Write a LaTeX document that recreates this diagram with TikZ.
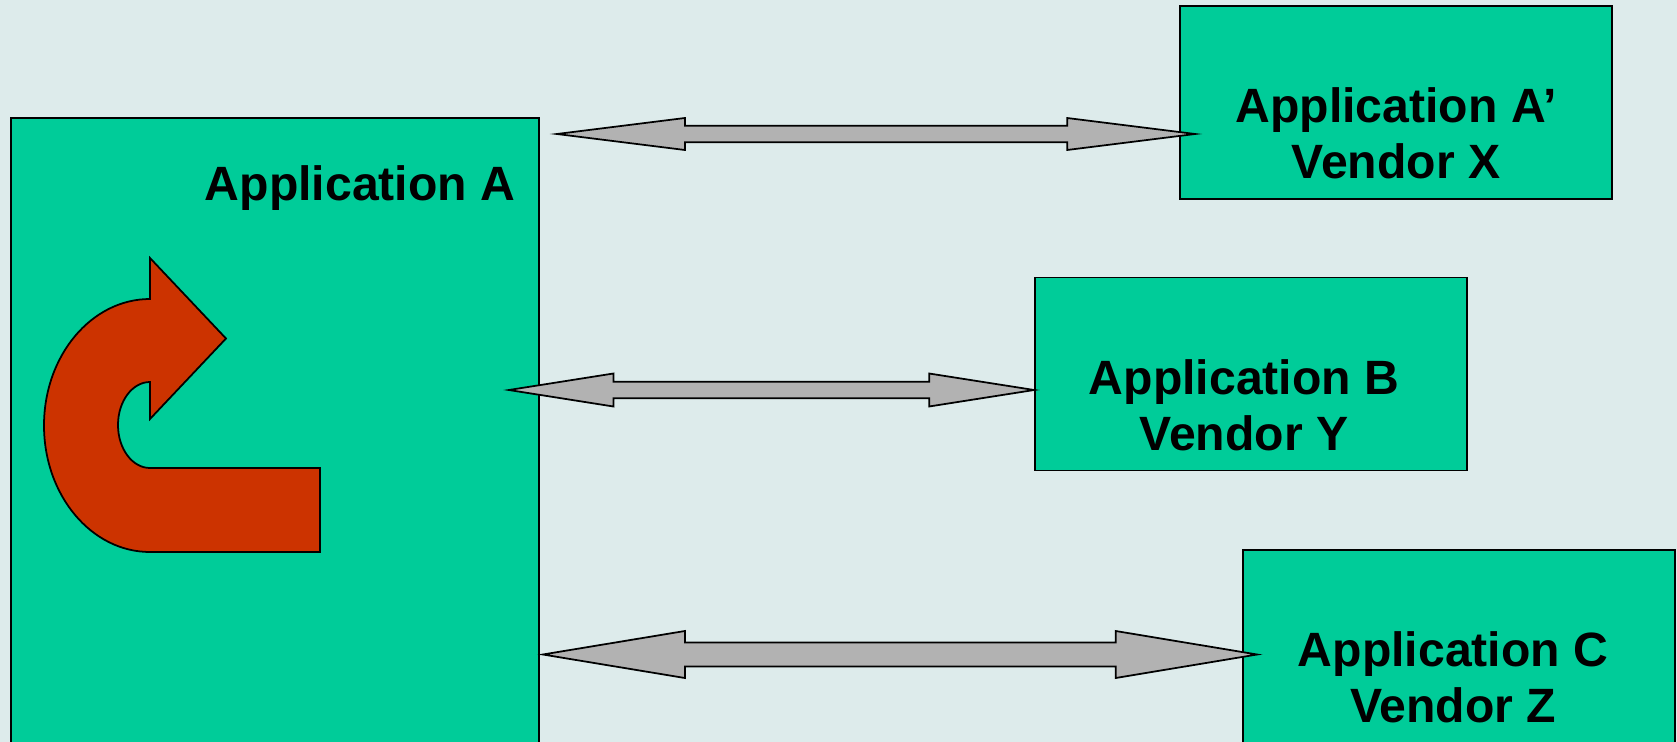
\documentclass[tikz,border=0pt]{standalone}
\usepackage{fontspec}
\setmainfont{Liberation Sans}
\usepackage{xcolor}
\usepackage{tikz}
\usetikzlibrary{positioning,calc}

\definecolor{slidebg}{RGB}{221,235,235}
\definecolor{appgreen}{RGB}{0,204,153}
\definecolor{loopred}{RGB}{204,51,0}
\definecolor{linkgray}{RGB}{178,178,178}

\begin{document}
\begin{tikzpicture}

% Styles for the application boxes and links
\tikzstyle{appbox}=[rectangle, draw=black, fill=appgreen, line width=0.5pt, minimum width=4.32cm, minimum height=1.93cm, inner sep=0pt]
\tikzstyle{apptext}=[align=center, font=\fontsize{13.7}{15.9}\selectfont\bfseries, inner sep=0pt]
\tikzstyle{link}=[draw=black, fill=linkgray, line width=0.5pt, line join=miter]

% Background
\fill[slidebg] (0,0) rectangle (16.77,-7.42);
\useasboundingbox (0,0) rectangle (16.77,-7.42);
\clip (0,0) rectangle (16.77,-7.42);

% Main application
\node[appbox, minimum width=5.28cm, minimum height=6.42cm] (appA) at (2.75,-4.39) {};
\node[apptext, anchor=base] (labA) at (3.60,-2.00) {Application A};

% Loop arrow inside application A
\draw[draw=black, fill=loopred, line width=0.5pt] (1.50,-2.58) -- (2.26,-3.385) -- (1.50,-4.19) -- (1.50,-3.82)
  arc[start angle=90, end angle=270, x radius=0.32, y radius=0.43]
  -- (3.20,-4.68) -- (3.20,-5.52) -- (1.50,-5.52)
  arc[start angle=270, end angle=90, x radius=1.06, y radius=1.265]
  -- cycle;

% Vendor applications
\node[appbox] (appX) at (13.96,-1.025) {};
\node[appbox] (appY) at (12.51,-3.74) {};
\node[appbox] (appZ) at (14.59,-6.465) {};

\node[apptext] (txtX) at ([yshift=-0.31cm]appX.center) {Application A’\\Vendor X};
\node[apptext] (txtY) at ([xshift=-0.07cm, yshift=-0.31cm]appY.center) {Application B\\Vendor Y};
\node[apptext] (txtZ) at ([xshift=-0.06cm, yshift=-0.31cm]appZ.center) {Application C\\Vendor Z};

% Link end points
\coordinate (linkAX) at ([xshift=0.17cm]appA.east |- 0,-1.34);
\coordinate (linkXA) at ([xshift=0.16cm]appX.west |- 0,-1.34);
\coordinate (linkAY) at ([xshift=-0.31cm]appA.east |- 0,-3.90);
\coordinate (linkYA) at (appY.west |- 0,-3.90);
\coordinate (linkAZ) at ([xshift=0.03cm]appA.east |- 0,-6.545);
\coordinate (linkZA) at ([xshift=0.15cm]appZ.west |- 0,-6.545);

% Links
\draw[link] (linkAX) -- ++(1.28,0.16) -- ++(0,-0.0775) -- ($(linkXA)+(-1.28,0.0825)$) -- ++(0,0.0775)
  -- (linkXA) -- ++(-1.28,-0.16) -- ++(0,0.0775) -- ($(linkAX)+(1.28,-0.0825)$) -- ++(0,-0.0775) -- cycle;
\draw[link] (linkAY) -- ++(1.045,0.165) -- ++(0,-0.0825) -- ($(linkYA)+(-1.05,0.0825)$) -- ++(0,0.0825)
  -- (linkYA) -- ++(-1.05,-0.165) -- ++(0,0.0825) -- ($(linkAY)+(1.045,-0.0825)$) -- ++(0,-0.0825) -- cycle;
\draw[link] (linkAZ) -- ++(1.42,0.235) -- ++(0,-0.115) -- ($(linkZA)+(-1.415,0.12)$) -- ++(0,0.115)
  -- (linkZA) -- ++(-1.415,-0.235) -- ++(0,0.115) -- ($(linkAZ)+(1.42,-0.12)$) -- ++(0,-0.115) -- cycle;

\end{tikzpicture}
\end{document}
